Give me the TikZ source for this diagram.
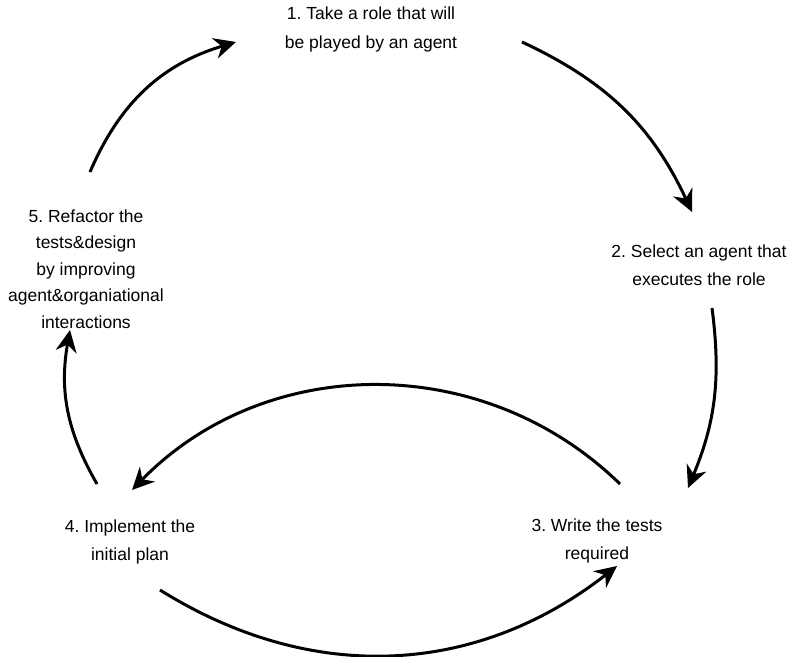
\documentclass[tikz,border=0pt]{standalone}
\usepackage{fontspec}
\setmainfont{Liberation Sans}
\usetikzlibrary{arrows.meta}
\frenchspacing
\begin{document}
\begin{tikzpicture}[x=1pt,y=1pt,
  lbl/.style={align=center,inner sep=0pt,font=\fontsize{17.5}{28.5}\selectfont},
  lbltall/.style={align=center,inner sep=0pt,font=\fontsize{17.5}{26.5}\selectfont},
  flow/.style={line width=3pt,-{Stealth[length=22pt,width=21pt]}}]
\useasboundingbox (0,0) rectangle (794,656);
\node[lbl] (n1) at (371,626.5) {1. Take a role that will\\be played by an agent};
\node[lbl] (n2) at (699,391) {2. Select an agent that\\executes the role};
\node[lbl] (n3) at (597,115) {3. Write the tests\\required};
\node[lbl] (n4) at (130,114) {4. Implement the\\initial plan};
\node[lbltall] (n5) at (86,387) {5. Refactor the\\tests\&design\\by improving\\agent\&organiational\\interactions};
\coordinate (a1) at (522,614); \coordinate (a2) at (692,444);
\coordinate (b1) at (712,348); \coordinate (b2) at (688,168);
\coordinate (c1) at (620,172); \coordinate (c2) at (132,166);
\coordinate (d1) at (160,66);  \coordinate (d2) at (617,90);
\coordinate (e1) at (97,172);  \coordinate (e2) at (70,326);
\coordinate (f1) at (90,484);  \coordinate (f2) at (236,614);
\draw[flow] (a1) to[bend left=20] (a2);
\draw[flow] (b1) to[bend left=15] (b2);
\draw[flow] (c1) to[bend right=45] (c2);
\draw[flow] (d1) to[bend right=35] (d2);
\draw[flow] (e1) to[bend left=20] (e2);
\draw[flow] (f1) to[bend left=25] (f2);
\end{tikzpicture}
\end{document}
